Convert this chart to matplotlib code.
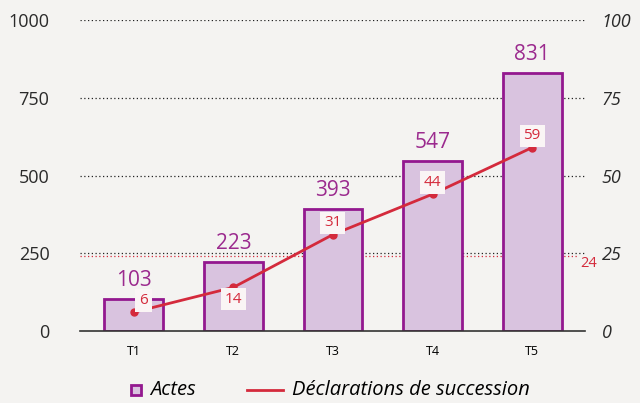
import matplotlib
matplotlib.use("Agg")
import matplotlib.pyplot as plt
from matplotlib.patches import Rectangle
from matplotlib.lines import Line2D

trimestres = ["T1", "T2", "T3", "T4", "T5"]
actes = [103, 223, 393, 547, 831]
declarations = [6, 14, 31, 44, 59]
ref_decl = 24

purple = "#93188f"
fill = "#d9c3df"
red = "#d42a3c"
bg = "#f4f3f1"

plt.rcParams["font.family"] = ["Open Sans", "DejaVu Sans"]

fig = plt.figure(figsize=(6.4, 4.03), dpi=100, facecolor=bg)
ax = fig.add_axes([0.125, 0.179, 0.789, 0.771], facecolor=bg)
x = list(range(len(trimestres)))

for v in [250, 500, 750, 1000]:
    ax.axhline(v, color="#222222", linestyle=(0, (1, 2)), linewidth=0.9, zorder=0)
# reference line for declarations (24 on right axis = 240 on left)
ax.axhline(ref_decl * 10, xmax=0.984, color=red, linestyle=(0, (1, 2)), linewidth=0.9, zorder=0)
ax.text(4.485, ref_decl * 10, str(ref_decl), color=red, fontsize=10.5, va="top", ha="left")

ax.bar(x, actes, width=0.59, color=fill, edgecolor=purple, linewidth=2, zorder=2)
for xi, v in zip(x, actes):
    ax.annotate(str(v), (xi, v), xytext=(0, 9), textcoords="offset points",
                ha="center", va="baseline", color="#9b2a8e", fontsize=15)

ax.set_xlim(-0.54, 4.53)
ax.set_ylim(0, 1000)
ax.set_yticks([0, 250, 500, 750, 1000])
ax.set_xticks(x)
ax.set_xticklabels(trimestres, fontsize=9)
ax.tick_params(axis="both", length=0)
ax.tick_params(axis="y", labelsize=13, pad=22, labelcolor="#2a2a2a")
ax.tick_params(axis="x", pad=10)
for s in ["top", "right", "left"]:
    ax.spines[s].set_visible(False)
ax.spines["bottom"].set_color("#333333")
ax.spines["bottom"].set_linewidth(1.2)

ax2 = ax.twinx()
ax2.set_ylim(0, 100)
ax2.set_yticks([0, 25, 50, 75, 100])
ax2.tick_params(axis="y", length=0, labelsize=13, pad=12, labelcolor="#2a2a2a")
for lab in ax2.get_yticklabels():
    lab.set_fontstyle("italic")
for s in ax2.spines.values():
    s.set_visible(False)

ax2.plot(x, declarations, color=red, linewidth=2, marker="o", markersize=5, zorder=3)
offsets = [(7, 3, "bottom"), (0, -3, "top"), (0, 3, "bottom"), (0, 3, "bottom"), (0, 3, "bottom")]
for xi, v, (dx, dy, va) in zip(x, declarations, offsets):
    ax2.annotate(str(v), (xi, v), xytext=(dx, dy), textcoords="offset points",
                 ha="center", va=va, color=red, fontsize=11,
                 bbox=dict(boxstyle="square,pad=0.25", fc="#faf5f5", ec="none"))

# legend drawn by hand
ly = 1 - 390 / 403
fig.patches.append(Rectangle((131 / 640, ly - 5 / 403), 10 / 640, 10 / 403,
                             transform=fig.transFigure, facecolor=fill,
                             edgecolor=purple, linewidth=2))
fig.text(150 / 640, ly, "Actes", style="italic", fontsize=14.5, va="center", ha="left")
fig.lines.append(Line2D([247 / 640, 283 / 640], [ly, ly], transform=fig.transFigure,
                        color=red, linewidth=2))
fig.text(292 / 640, ly, "Déclarations de succession", style="italic", fontsize=14.5,
         va="center", ha="left")

fig.savefig("out.png", dpi=100, facecolor=bg)
